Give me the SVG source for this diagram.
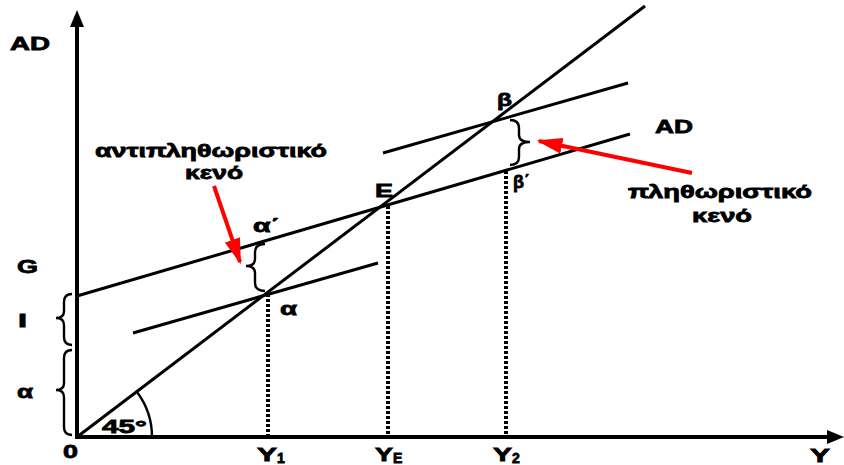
<svg xmlns="http://www.w3.org/2000/svg" width="844" height="465" viewBox="0 0 844 465">
<defs>
<style>
.ax{stroke:#000;stroke-width:4;fill:none}
.ln{stroke:#000;stroke-width:3;fill:none}
.dot{stroke:#000;stroke-width:4;stroke-dasharray:3 2;fill:none}
.br{stroke:#000;stroke-width:2.4;fill:none}
.red{stroke:#f00;stroke-width:4;fill:none}
text{font-family:"Liberation Sans",Arial,sans-serif;font-weight:bold;font-size:19px;fill:#000;stroke:#000;stroke-width:0.8}
.sub{font-size:14px}
</style>
<marker id="rh" viewBox="0 0 10 10" refX="9" refY="5" markerWidth="26" markerHeight="16" orient="auto" markerUnits="userSpaceOnUse" preserveAspectRatio="none"><path d="M0,0 L10,5 L0,10 z" fill="#f00"/></marker>
</defs>
<g id="connectors">
<line id="yaxis" class="ax" x1="77" y1="439" x2="77" y2="24"/>
<path d="M77,10 L70,27 L84,27 z"/>
<line id="xaxis" class="ax" x1="75" y1="437" x2="830" y2="437"/>
<path d="M844,437 L827,430 L827,444 z"/>
<line id="line45" class="ln" x1="77" y1="437" x2="645" y2="6"/>
<line id="ad" class="ln" x1="77" y1="296" x2="630" y2="134"/>
<line id="ad1" class="ln" x1="133" y1="333" x2="378" y2="263"/>
<line id="ad2" class="ln" x1="383" y1="153" x2="628" y2="83"/>
<line class="dot" x1="268" y1="294" x2="268" y2="435"/>
<line class="dot" x1="388" y1="206" x2="388" y2="435"/>
<line class="dot" x1="506" y1="171" x2="506" y2="435"/>
<path id="arc45" class="br" d="M152,437 A75,75 0 0 0 137,392"/>
<path id="braceI" class="br" d="M72,294 Q64,294 64,302 L64,311 Q64,318 56,318 Q64,318 64,325 L64,337 Q64,345 72,345"/>
<path id="braceA" class="br" d="M72,350 Q64,350 64,358 L64,383 Q64,390 56,390 Q64,390 64,397 L64,427 Q64,435 72,435"/>
<path id="braceLeft" class="br" d="M265,244 Q255,244 255,252 L255,259 Q255,266 246,266 Q255,266 255,273 L255,283 Q255,291 265,291"/>
<path id="braceRight" class="br" d="M510,120 Q519,120 519,128 L519,135 Q519,142 530,142 Q519,142 519,149 L519,157 Q519,165 510,165"/>
<line class="red" x1="214" y1="186" x2="240" y2="262" marker-end="url(#rh)"/>
<line class="red" x1="692" y1="173" x2="539" y2="141" marker-end="url(#rh)"/>
</g>
<g id="labels">
<text x="10" y="50" textLength="40" lengthAdjust="spacingAndGlyphs">AD</text>
<text x="17" y="273" textLength="21" lengthAdjust="spacingAndGlyphs">G</text>
<text x="18" y="327" textLength="9" lengthAdjust="spacingAndGlyphs">I</text>
<text x="17" y="398" textLength="16" lengthAdjust="spacingAndGlyphs">α</text>
<text x="63" y="458" textLength="15" lengthAdjust="spacingAndGlyphs">0</text>
<text x="102" y="433" textLength="45" lengthAdjust="spacingAndGlyphs">45°</text>
<text x="257" y="461"><tspan textLength="20" lengthAdjust="spacingAndGlyphs">Y</tspan><tspan class="sub" dy="2">1</tspan></text>
<text x="375" y="461"><tspan textLength="18" lengthAdjust="spacingAndGlyphs">Y</tspan><tspan class="sub" dy="2">E</tspan></text>
<text x="493" y="461"><tspan textLength="19" lengthAdjust="spacingAndGlyphs">Y</tspan><tspan class="sub" dy="2">2</tspan></text>
<text x="810" y="462" textLength="20" lengthAdjust="spacingAndGlyphs">Y</text>
<text x="655" y="133" textLength="38" lengthAdjust="spacingAndGlyphs">AD</text>
<text x="497" y="106" textLength="15" lengthAdjust="spacingAndGlyphs">β</text>
<text x="513" y="188" textLength="17" lengthAdjust="spacingAndGlyphs">β΄</text>
<text x="375" y="197" textLength="18" lengthAdjust="spacingAndGlyphs">E</text>
<text x="253" y="232" textLength="27" lengthAdjust="spacingAndGlyphs">α΄</text>
<text x="280" y="315" textLength="17" lengthAdjust="spacingAndGlyphs">α</text>
<text x="95" y="157" textLength="232" lengthAdjust="spacingAndGlyphs">αντιπληθωριστικό</text>
<text x="185" y="179" textLength="58" lengthAdjust="spacingAndGlyphs">κενό</text>
<text x="628" y="198" textLength="184" lengthAdjust="spacingAndGlyphs">πληθωριστικό</text>
<text x="692" y="222" textLength="60" lengthAdjust="spacingAndGlyphs">κενό</text>
</g>
</svg>
